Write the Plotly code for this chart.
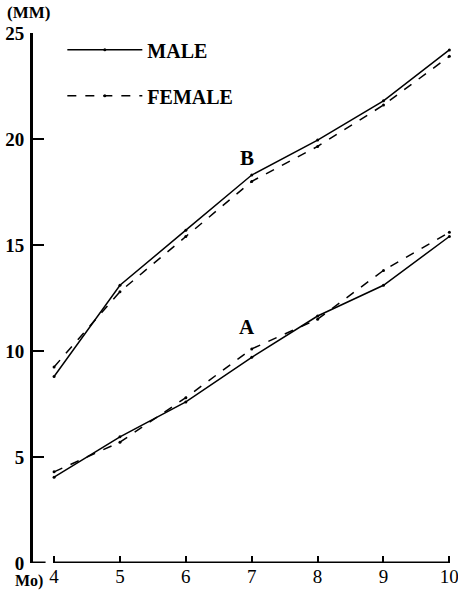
import plotly.graph_objects as go

months = [4, 5, 6, 7, 8, 9, 10]

# curve B (upper pair)
male_b = [8.8, 13.1, 15.7, 18.3, 19.95, 21.8, 24.2]
female_b = [9.25, 12.8, 15.4, 18.0, 19.65, 21.6, 23.9]

# curve A (lower pair)
male_a = [4.05, 5.95, 7.6, 9.7, 11.65, 13.1, 15.4]
female_a = [4.3, 5.7, 7.8, 10.1, 11.5, 13.8, 15.6]

y_ticks = [0, 5, 10, 15, 20, 25]

serif = "Liberation Serif, DejaVu Serif, serif"

fig = go.Figure()

for ys, dash, name, group, show in [
    (male_b, "solid", "MALE", "m", True),
    (male_a, "solid", "MALE", "m", False),
    (female_b, "dash", "FEMALE", "f", True),
    (female_a, "dash", "FEMALE", "f", False),
]:
    fig.add_trace(
        go.Scatter(
            x=months,
            y=ys,
            mode="lines+markers",
            name="<b>" + name + "</b>",
            legendgroup=group,
            showlegend=show,
            line=dict(color="black", width=1.5, dash=dash),
            marker=dict(color="black", size=3),
        )
    )

fig.add_annotation(x=6.93, y=19.1, text="<b>B</b>", showarrow=False,
                   font=dict(size=21, color="black", family=serif))
fig.add_annotation(x=6.93, y=11.15, text="<b>A</b>", showarrow=False,
                   font=dict(size=21, color="black", family=serif))
fig.add_annotation(x=0, xref="paper", xanchor="center", xshift=-5,
                   y=1, yref="paper", yanchor="bottom", yshift=9,
                   text="<b>(MM)</b>", showarrow=False,
                   font=dict(size=17, color="black", family=serif))
fig.add_annotation(x=0, xref="paper", xanchor="right", xshift=12,
                   y=0, yref="paper", yanchor="top", yshift=-7,
                   text="<b>Mo)</b>", showarrow=False,
                   font=dict(size=16, color="black", family=serif))

# x axis line starts at month 4, separate from the y axis foot
fig.add_shape(type="line", x0=4, x1=10, y0=0, y1=0, xref="x", yref="y",
              line=dict(color="black", width=3))
fig.add_shape(type="line", x0=0, x1=0.03, y0=0, y1=0, xref="paper", yref="y",
              line=dict(color="black", width=3))

fig.update_xaxes(
    range=[3.68, 10.04],
    tickvals=months,
    ticks="inside",
    ticklen=7,
    tickwidth=2,
    tickcolor="black",
    showline=False,
    showgrid=False,
    zeroline=False,
    automargin=False,
    ticklabeloverflow="allow",
    tickfont=dict(size=19, color="black", family=serif),
)
fig.update_yaxes(
    range=[0, 25],
    tickvals=y_ticks,
    ticks="inside",
    ticklen=11,
    tickwidth=2,
    tickcolor="black",
    showline=True,
    linewidth=3,
    linecolor="black",
    showgrid=False,
    zeroline=False,
    automargin=False,
    ticklabelstandoff=2,
    tickfont=dict(size=19, color="black", family=serif, weight="bold"),
)

fig.update_layout(
    width=458,
    height=592,
    margin=dict(l=33, r=6, t=33, b=29),
    plot_bgcolor="white",
    paper_bgcolor="white",
    legend=dict(x=0.07, y=1.005, xanchor="left", yanchor="top",
                itemwidth=75, tracegroupgap=17, bgcolor="rgba(0,0,0,0)",
                font=dict(size=20, color="black", family=serif)),
)

# drop the page's default body margin so the figure sits at the window corner
fig.write_html("out.html", config={"displayModeBar": False},
               post_script="document.body.style.margin='0';")
